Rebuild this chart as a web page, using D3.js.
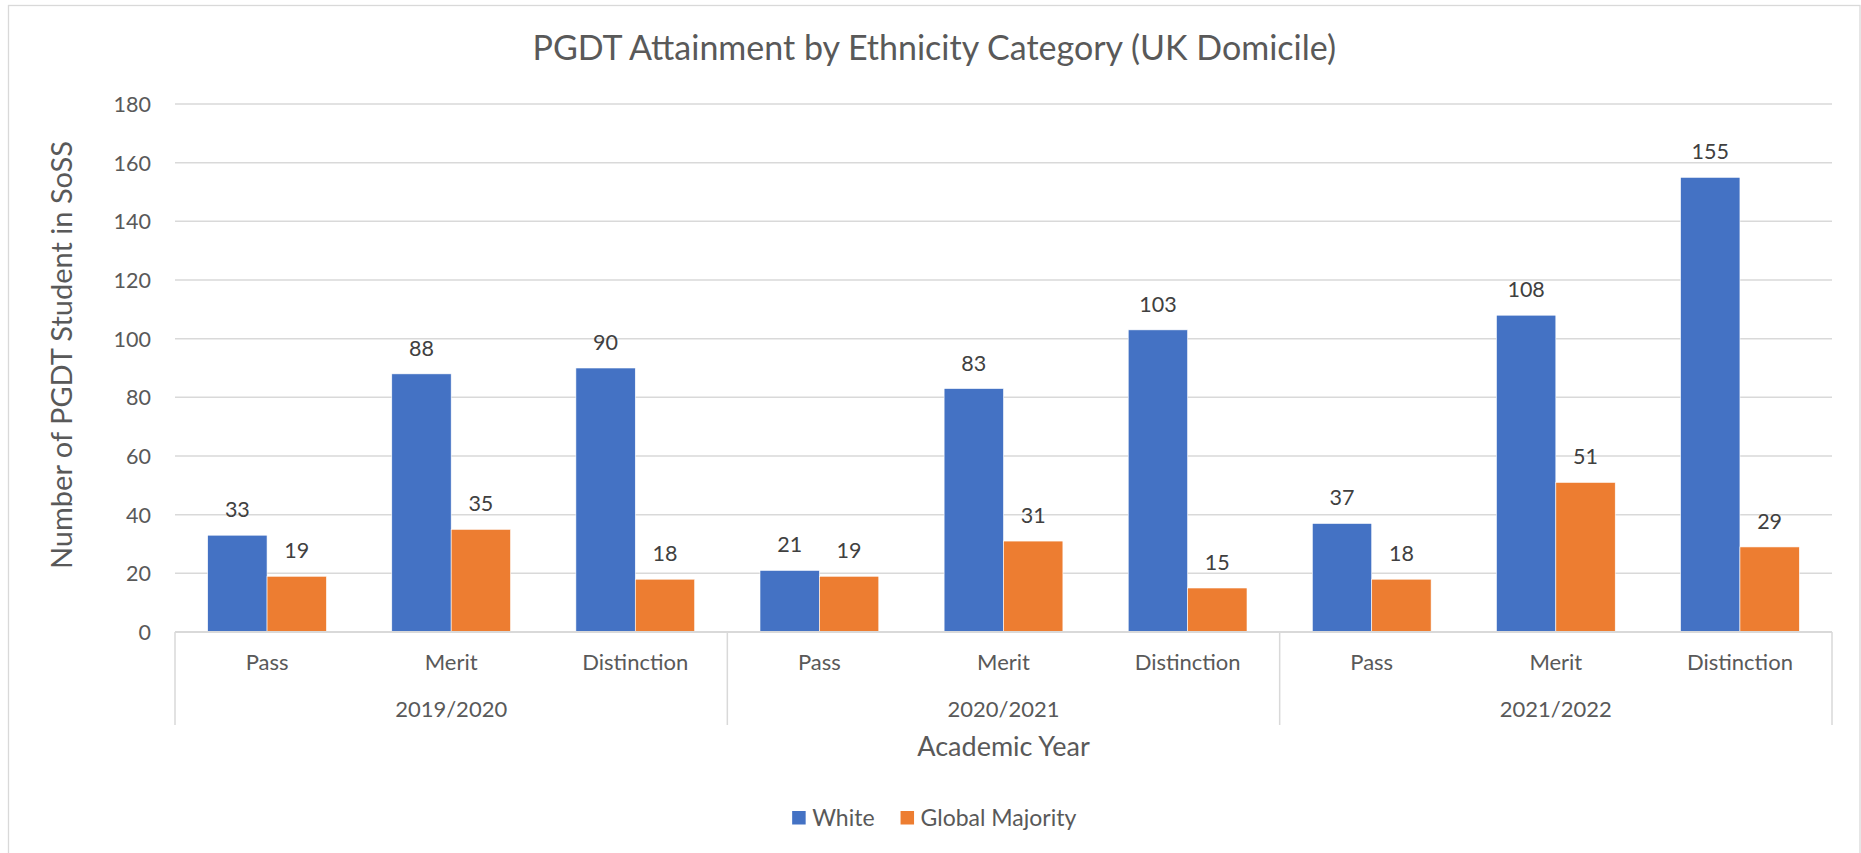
<!DOCTYPE html>
<html>
<head>
<meta charset="utf-8">
<script src="https://cdn.jsdelivr.net/npm/d3@7"></script>
<style>
  html, body { margin: 0; padding: 0; background: #fff; }
  svg { display: block; }
  text { font-family: Lato, "Open Sans", sans-serif; fill: #595959; }
</style>
</head>
<body>
<svg id="chart" width="1861" height="853"></svg>
<script>
const title = "PGDT Attainment by Ethnicity Category (UK Domicile)";
const years = ["2019/2020", "2020/2021", "2021/2022"];
const grades = ["Pass", "Merit", "Distinction"];
const seriesNames = ["White", "Global Majority"];
const whiteValues = [33, 88, 90, 21, 83, 103, 37, 108, 155];
const globalMajorityValues = [19, 35, 18, 19, 31, 15, 18, 51, 29];
const yTicks = [0, 20, 40, 60, 80, 100, 120, 140, 160, 180];
const yAxisTitle = "Number of PGDT Student in SoSS";
const xAxisTitle = "Academic Year";
const colors = ["#4472C4", "#ED7D31"];

const svg = d3.select("#chart");
const plot = { left: 175, right: 1832, top: 104, bottom: 632 };
const chartCenter = (8.5 + 1860) / 2;

// outer chart border
svg.append("rect")
  .attr("x", 8.5).attr("y", 5.5)
  .attr("width", 1860 - 8.5).attr("height", 900)
  .attr("fill", "#fff").attr("stroke", "#d9d9d9").attr("stroke-width", 1.3);

const cats = [];
years.forEach(y => grades.forEach(g => cats.push({ year: y, grade: g, key: y + "|" + g })));
const data = cats.map((c, i) => ({ ...c, values: [whiteValues[i], globalMajorityValues[i]] }));

const x0 = d3.scaleBand().domain(cats.map(c => c.key)).range([plot.left, plot.right]).padding(0);
const x1 = d3.scaleBand().domain(seriesNames).range([0, x0.bandwidth()]).paddingInner(0).paddingOuter(0.55);
const xYear = d3.scaleBand().domain(years).range([plot.left, plot.right]).padding(0);
const y = d3.scaleLinear().domain([0, 180]).range([plot.bottom, plot.top]);

// gridlines
svg.append("g").selectAll("line").data(yTicks.filter(t => t > 0)).join("line")
  .attr("x1", plot.left).attr("x2", plot.right)
  .attr("y1", d => y(d)).attr("y2", d => y(d))
  .attr("stroke", "#d9d9d9").attr("stroke-width", 1.5);

// y tick labels
svg.append("g").selectAll("text").data(yTicks).join("text")
  .attr("x", 151).attr("y", d => y(d))
  .attr("text-anchor", "end").attr("dominant-baseline", "central")
  .style("font-size", "21.5px")
  .text(d => d);

// bars
const groups = svg.append("g").selectAll("g").data(data).join("g")
  .attr("transform", d => `translate(${x0(d.key)},0)`);
groups.selectAll("rect").data(d => d.values.map((v, i) => ({ name: seriesNames[i], v, i }))).join("rect")
  .attr("x", d => x1(d.name)).attr("width", x1.bandwidth())
  .attr("y", d => y(d.v)).attr("height", d => y(0) - y(d.v))
  .attr("fill", d => colors[d.i])
  .attr("stroke", "#ffffff").attr("stroke-width", 0.6);
groups.selectAll("text").data(d => d.values.map((v, i) => ({ name: seriesNames[i], v, i }))).join("text")
  .attr("x", d => x1(d.name) + x1.bandwidth() / 2)
  .attr("y", d => y(d.v) - 18)
  .attr("text-anchor", "middle")
  .style("font-size", "21.5px")
  .style("fill", "#404040")
  .text(d => d.v);

// x axis baseline
svg.append("line")
  .attr("x1", plot.left).attr("x2", plot.right)
  .attr("y1", plot.bottom).attr("y2", plot.bottom)
  .attr("stroke", "#d9d9d9").attr("stroke-width", 2);

// group dividers
const dividers = years.map(yr => xYear(yr)).concat([plot.right]);
svg.append("g").selectAll("line").data(dividers).join("line")
  .attr("x1", d => d).attr("x2", d => d)
  .attr("y1", plot.bottom).attr("y2", 725)
  .attr("stroke", "#d9d9d9").attr("stroke-width", 1.5);

// category labels
svg.append("g").selectAll("text").data(cats).join("text")
  .attr("x", d => x0(d.key) + x0.bandwidth() / 2).attr("y", 670)
  .attr("text-anchor", "middle")
  .style("font-size", "22px")
  .text(d => d.grade);

// year labels
svg.append("g").selectAll("text").data(years).join("text")
  .attr("x", d => xYear(d) + xYear.bandwidth() / 2).attr("y", 716.5)
  .attr("text-anchor", "middle")
  .style("font-size", "22px")
  .text(d => d);

// x axis title
svg.append("text")
  .attr("x", (plot.left + plot.right) / 2).attr("y", 756)
  .attr("text-anchor", "middle")
  .style("font-size", "27px")
  .text(xAxisTitle);

// y axis title
svg.append("text")
  .attr("transform", "translate(72,355) rotate(-90)")
  .attr("text-anchor", "middle")
  .style("font-size", "29px")
  .text(yAxisTitle);

// chart title
svg.append("text")
  .attr("x", chartCenter).attr("y", 60)
  .attr("text-anchor", "middle")
  .style("font-size", "34px")
  .text(title);

// legend
const legend = svg.append("g");
const items = legend.selectAll("g").data(seriesNames).join("g");
items.append("rect").attr("width", 13.5).attr("height", 13.5).attr("y", 811)
  .attr("fill", (d, i) => colors[i]);
items.append("text").attr("x", 20).attr("y", 825.5)
  .style("font-size", "23px").text(d => d);
let cursor = 0;
const positions = [];
items.each(function(d) {
  const tw = d3.select(this).select("text").node().getComputedTextLength();
  positions.push(cursor);
  cursor += 20 + tw + 26;
});
const totalW = cursor - 26;
const startX = chartCenter - totalW / 2;
items.attr("transform", (d, i) => `translate(${startX + positions[i]},0)`);
</script>
</body>
</html>
